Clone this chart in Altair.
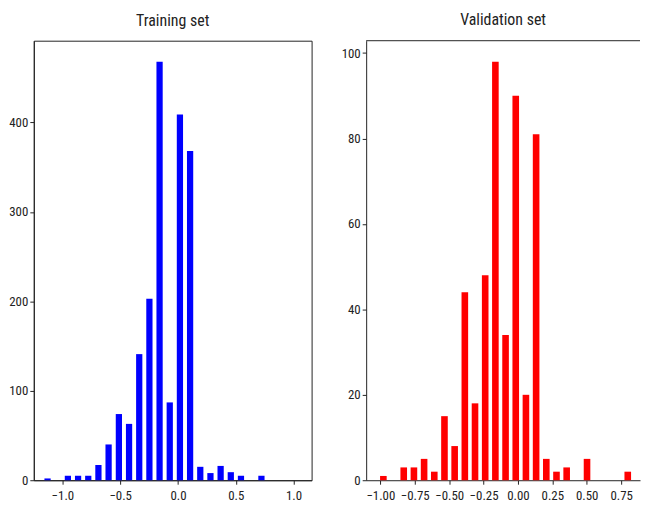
import altair as alt
import pandas as pd

# ---- data ----
train_centers = [-1.128, -1.040, -0.952, -0.864, -0.776, -0.688, -0.600, -0.511,
                 -0.423, -0.335, -0.247, -0.159, -0.071, 0.017, 0.105, 0.193,
                 0.281, 0.369, 0.457, 0.545, 0.634, 0.722]
train_counts = [2, 0, 5, 5, 5, 17, 40, 74, 63, 141, 203, 468, 87, 409, 368, 15,
                8, 16, 9, 5, 0, 5]

val_centers = [-0.978, -0.904, -0.830, -0.756, -0.682, -0.608, -0.534, -0.460,
               -0.386, -0.312, -0.238, -0.164, -0.090, -0.016, 0.058, 0.132,
               0.206, 0.280, 0.354, 0.428, 0.502, 0.576, 0.650, 0.724, 0.798]
val_counts = [1, 0, 3, 3, 5, 2, 15, 8, 44, 18, 48, 98, 34, 90, 20, 81, 5, 2, 3,
              0, 5, 0, 0, 0, 2]

train_xticks = [-1.0, -0.5, 0.0, 0.5, 1.0]
train_yticks = [0, 100, 200, 300, 400]
val_xticks = [-1.0, -0.75, -0.5, -0.25, 0.0, 0.25, 0.5, 0.75]
val_yticks = [0, 20, 40, 60, 80, 100]

# ---- style ----
FONT = "Roboto Condensed, DejaVu Sans Condensed, DejaVu Sans"
TRAIN_HALF = 0.027
VAL_HALF = 0.024

train_df = pd.DataFrame({"center": train_centers, "count": train_counts})
val_df = pd.DataFrame({"center": val_centers, "count": val_counts})

train = (
    alt.Chart(train_df)
    .transform_calculate(x0=f"datum.center - {TRAIN_HALF}", x1=f"datum.center + {TRAIN_HALF}")
    .mark_bar(color="#0000ff")
    .encode(
        x=alt.X("x0:Q", scale=alt.Scale(domain=[-1.247, 1.156], nice=False, zero=False),
                axis=alt.Axis(values=train_xticks, format=".1f", title=None)),
        x2="x1:Q",
        y=alt.Y("count:Q", scale=alt.Scale(domain=[0, 491.4], nice=False),
                axis=alt.Axis(values=train_yticks, title=None)),
        y2=alt.datum(0),
    )
    .properties(width=280, height=443, title="Training set",
                view=alt.ViewBackground(stroke="#222", strokeWidth=1))
)

val_bars = (
    alt.Chart(val_df)
    .transform_calculate(x0=f"datum.center - {VAL_HALF}", x1=f"datum.center + {VAL_HALF}")
    .mark_bar(color="#ff0000")
    .encode(
        x=alt.X("x0:Q", scale=alt.Scale(domain=[-1.103, 0.887], nice=False, zero=False),
                axis=alt.Axis(values=val_xticks, format=".2f", title=None)),
        x2="x1:Q",
        y=alt.Y("count:Q", scale=alt.Scale(domain=[0, 102.9], nice=False),
                axis=alt.Axis(values=val_yticks, title=None)),
        y2=alt.datum(0),
    )
)
top_spine = (
    alt.Chart(alt.Data(values=[{}]))
    .mark_rule(color="#222", strokeWidth=1)
    .encode(x=alt.value(0), x2=alt.value("width"), y=alt.value(0))
)
val = alt.layer(val_bars, top_spine).properties(
    width=276, height=443, title="Validation set",
    view=alt.ViewBackground(stroke=None),
)

chart = (
    alt.hconcat(train, val, spacing=55, bounds="flush")
    .properties(padding={"left": 0, "top": 2, "right": 0, "bottom": 0})
    .configure_view(stroke=None)
    .configure_axis(
        grid=False, domainColor="#222", tickColor="#222", tickSize=4,
        labelFont=FONT, labelFontSize=13, labelColor="#222", labelPadding=5,
        labelOverlap=False, minExtent=0,
    )
    .configure_axisY(labelPadding=2)
    .configure_title(font=FONT, fontSize=16, fontWeight="normal", color="#222", offset=12)
)

chart.save("out.html", embed_options={"renderer": "svg", "actions": False})
